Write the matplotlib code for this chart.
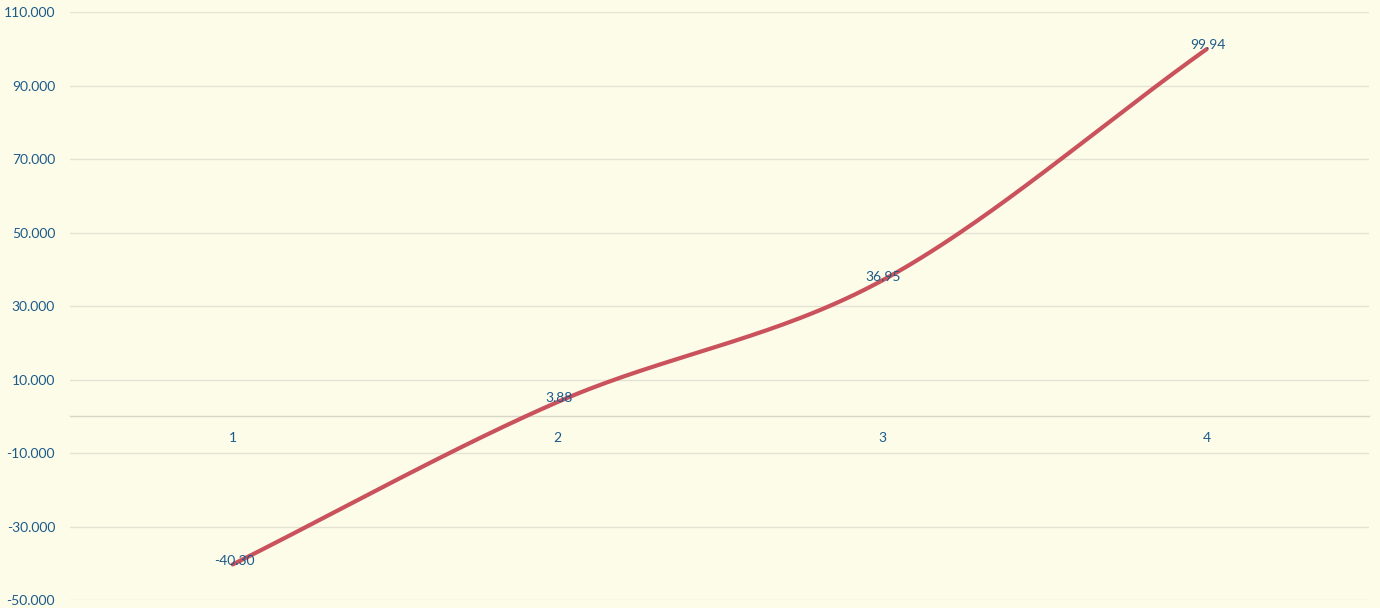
import numpy as np
import matplotlib.pyplot as plt
from matplotlib.ticker import FuncFormatter

categories = ['1', '2', '3', '4']
values = [-40.30, 3.88, 36.95, 99.94]
y_ticks = [-50, -30, -10, 10, 30, 50, 70, 90, 110]

bg = '#fdfce9'
text_blue = '#1c5a8a'
line_red = '#c9525c'

plt.rcParams['font.family'] = ['Lato', 'DejaVu Sans']

fig = plt.figure(figsize=(13.8, 6.08), dpi=100, facecolor=bg)
ax = fig.add_axes([0.051, 0.013, 0.941, 0.967], facecolor=bg)

x = np.arange(1, len(values) + 1, dtype=float)
y = np.array(values)


# smoothed line through the points (Catmull-Rom, like a spreadsheet "smoothed line")
def smooth(px, py, n=60):
    P = np.column_stack([px, py])
    P = np.vstack([2 * P[0] - P[1], P, 2 * P[-1] - P[-2]])
    out = []
    t = np.linspace(0, 1, n)[:, None]
    for i in range(1, len(P) - 2):
        p0, p1, p2, p3 = P[i - 1], P[i], P[i + 1], P[i + 2]
        seg = 0.5 * ((2 * p1) + (-p0 + p2) * t + (2 * p0 - 5 * p1 + 4 * p2 - p3) * t ** 2
                     + (-p0 + 3 * p1 - 3 * p2 + p3) * t ** 3)
        out.append(seg if i == 1 else seg[1:])
    s = np.vstack(out)
    return s[:, 0], s[:, 1]


sx, sy = smooth(x, y)
ax.plot(sx, sy, color=line_red, linewidth=3.0, solid_capstyle='round', zorder=3)

for xi, yi in zip(x, y):
    ax.text(xi + 0.005, yi + 1.0, f'{yi:.2f}', ha='center', va='center',
            fontsize=10, color=text_blue, zorder=4)

ax.set_xlim(0.5, 4.5)
ax.set_ylim(-50, 110)
ax.set_yticks(y_ticks)
ax.yaxis.set_major_formatter(FuncFormatter(lambda v, p: f'{v:.3f}'))
ax.set_xticks(x)
ax.set_xticklabels(categories)

ax.grid(axis='y', color='#e4e2d2', linewidth=1.0)
ax.grid(axis='x', visible=False)

for side in ['top', 'right', 'left']:
    ax.spines[side].set_visible(False)
ax.spines['bottom'].set_position(('data', 0))
ax.spines['bottom'].set_color('#d8d6c6')
ax.spines['bottom'].set_linewidth(1.0)

ax.tick_params(axis='both', length=0, labelsize=10, labelcolor=text_blue)
ax.tick_params(axis='x', pad=11)
ax.tick_params(axis='y', pad=11)

fig.savefig('out.png', dpi=100, facecolor=bg)
